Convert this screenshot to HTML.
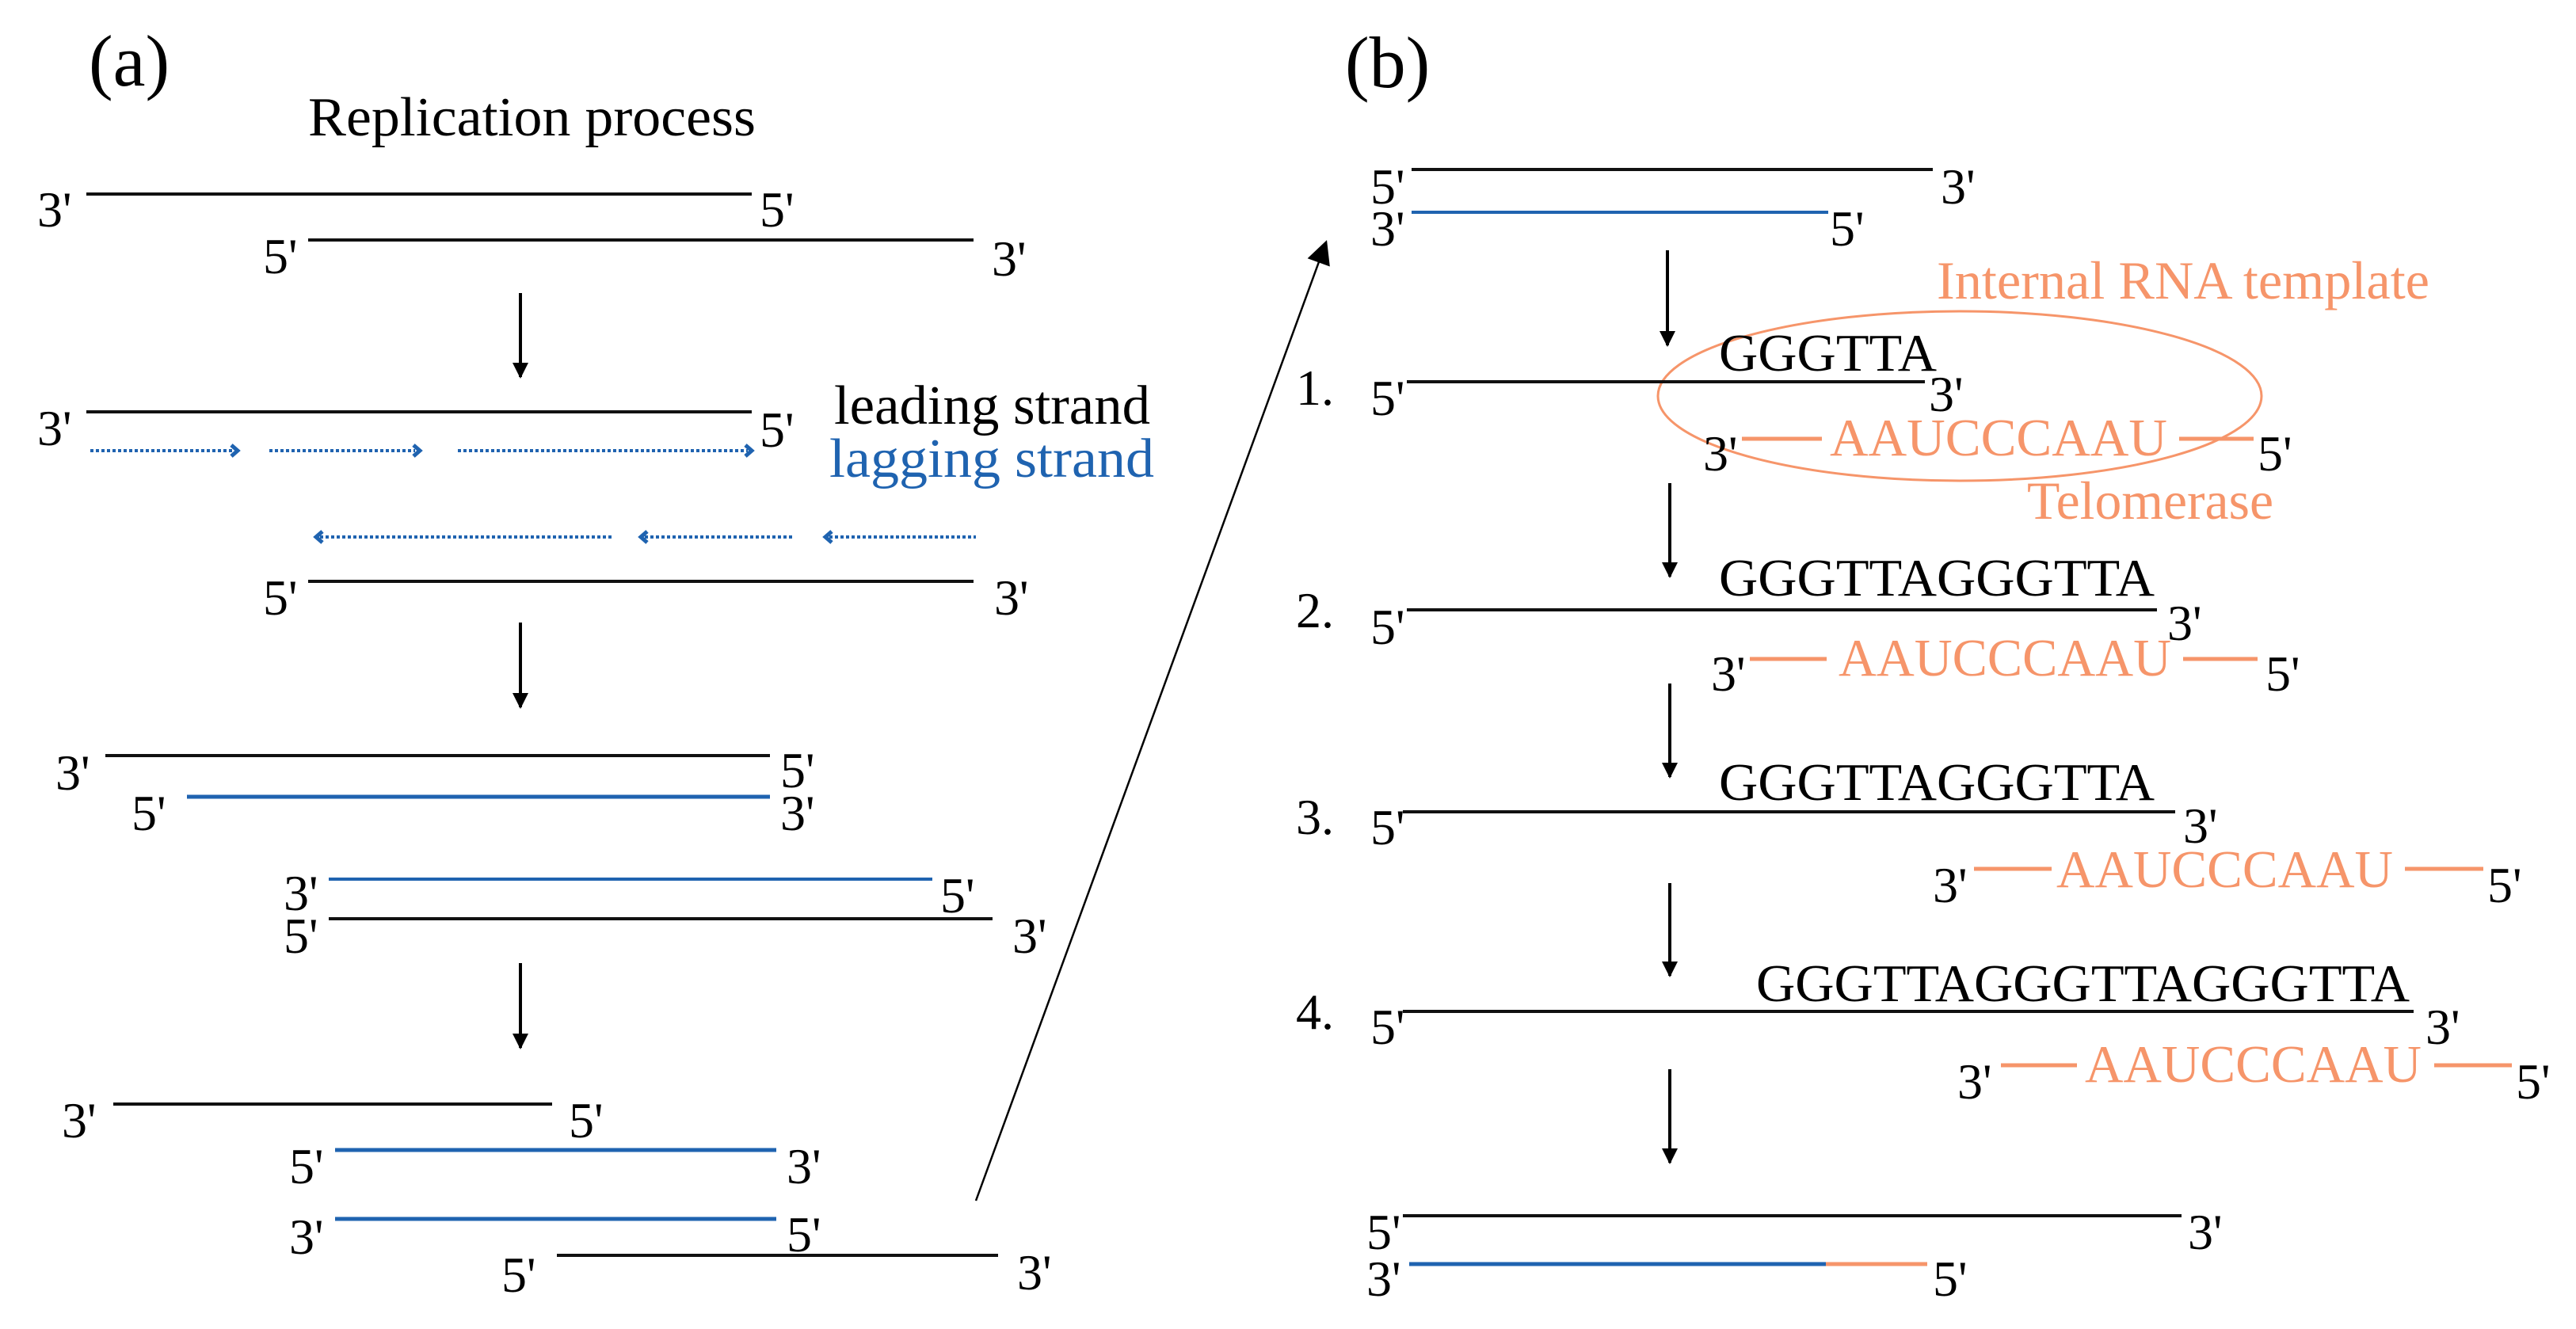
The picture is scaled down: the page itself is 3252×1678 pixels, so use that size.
<!DOCTYPE html>
<html><head><meta charset="utf-8"><style>
html,body{margin:0;padding:0;background:#fff;}
svg{display:block;}
text{font-family:"Liberation Serif",serif;}
</style></head><body>
<svg width="3252" height="1678" viewBox="0 0 3252 1678" xmlns="http://www.w3.org/2000/svg">
<defs>
<marker id="ah" viewBox="0 0 10 10" refX="9" refY="5" markerWidth="5" markerHeight="5" orient="auto" markerUnits="strokeWidth"><path d="M0,0 L10,5 L0,10 z" fill="#000"/></marker>
<marker id="ah2" viewBox="0 0 10 10" refX="9" refY="5" markerWidth="14" markerHeight="12" orient="auto" markerUnits="strokeWidth"><path d="M0,0 L10,5 L0,10 z" fill="#000"/></marker>
</defs>
<g font-size="64" fill="#000">
<!-- (a) -->
<text x="112" y="108" font-size="92">(a)</text>
<text x="389" y="171" font-size="70" textLength="565" lengthAdjust="spacingAndGlyphs">Replication process</text>

<line x1="109" y1="245" x2="949" y2="245" stroke="#111" stroke-width="4"/>
<text x="47" y="286">3'</text><text x="959" y="286">5'</text>
<line x1="389" y1="303" x2="1229" y2="303" stroke="#111" stroke-width="4"/>
<text x="332" y="345">5'</text><text x="1252" y="348">3'</text>

<line x1="657" y1="370" x2="657" y2="476" stroke="#000" stroke-width="4" marker-end="url(#ah)"/>

<line x1="109" y1="520" x2="949" y2="520" stroke="#111" stroke-width="4"/>
<text x="47" y="562">3'</text><text x="959" y="564">5'</text>
<text x="1053" y="535" font-size="70" textLength="399" lengthAdjust="spacingAndGlyphs">leading strand</text>
<text x="1047" y="602" font-size="70" fill="#1f63b0" textLength="410" lengthAdjust="spacingAndGlyphs">lagging strand</text>

<g stroke="#1f63b0" stroke-width="4" stroke-dasharray="4 3" fill="none">
<line x1="114" y1="569" x2="296" y2="569"/>
<line x1="340" y1="569" x2="524" y2="569"/>
<line x1="578" y1="569" x2="944" y2="569"/>
<line x1="404" y1="678" x2="773" y2="678"/>
<line x1="814" y1="678" x2="1001" y2="678"/>
<line x1="1047" y1="678" x2="1232" y2="678"/>
</g>
<g stroke="#1f63b0" stroke-width="5" fill="none">
<polyline points="292,562 300,569 292,576"/>
<polyline points="522,562 530,569 522,576"/>
<polyline points="941,562 949,569 941,576"/>
<polyline points="407,671 399,678 407,685"/>
<polyline points="817,671 809,678 817,685"/>
<polyline points="1050,671 1042,678 1050,685"/>
</g>

<line x1="389" y1="734" x2="1229" y2="734" stroke="#111" stroke-width="4"/>
<text x="332" y="776">5'</text><text x="1255" y="776">3'</text>

<line x1="657" y1="786" x2="657" y2="893" stroke="#000" stroke-width="4" marker-end="url(#ah)"/>

<line x1="133" y1="954" x2="972" y2="954" stroke="#111" stroke-width="4"/>
<text x="70" y="997">3'</text><text x="985" y="994">5'</text>
<line x1="236" y1="1006" x2="972" y2="1006" stroke="#1f63b0" stroke-width="5"/>
<text x="166" y="1048">5'</text><text x="985" y="1048">3'</text>

<line x1="415" y1="1110" x2="1177" y2="1110" stroke="#1f63b0" stroke-width="4"/>
<text x="358" y="1149">3'</text><text x="1187" y="1152">5'</text>
<line x1="415" y1="1160" x2="1253" y2="1160" stroke="#111" stroke-width="4"/>
<text x="358" y="1203">5'</text><text x="1278" y="1203">3'</text>

<line x1="657" y1="1216" x2="657" y2="1323" stroke="#000" stroke-width="4" marker-end="url(#ah)"/>

<line x1="143" y1="1394" x2="697" y2="1394" stroke="#111" stroke-width="4"/>
<text x="78" y="1436">3'</text><text x="718" y="1436">5'</text>
<line x1="423" y1="1452" x2="980" y2="1452" stroke="#1f63b0" stroke-width="5"/>
<text x="365" y="1494">5'</text><text x="993" y="1494">3'</text>
<line x1="423" y1="1539" x2="980" y2="1539" stroke="#1f63b0" stroke-width="5"/>
<text x="365" y="1583">3'</text><text x="993" y="1580">5'</text>
<line x1="703" y1="1585" x2="1260" y2="1585" stroke="#111" stroke-width="4"/>
<text x="633" y="1631">5'</text><text x="1284" y="1628">3'</text>

<!-- diagonal -->
<line x1="1232" y1="1516" x2="1674" y2="306" stroke="#000" stroke-width="2.5" marker-end="url(#ah2)"/>

<!-- (b) -->
<text x="1698" y="110" font-size="92">(b)</text>

<line x1="1782" y1="214" x2="2440" y2="214" stroke="#111" stroke-width="4"/>
<text x="1730" y="257">5'</text><text x="2450" y="257">3'</text>
<line x1="1782" y1="268" x2="2308" y2="268" stroke="#1f63b0" stroke-width="4"/>
<text x="1730" y="310">3'</text><text x="2310" y="310">5'</text>

<line x1="2105" y1="316" x2="2105" y2="436" stroke="#000" stroke-width="4" marker-end="url(#ah)"/>

<text x="2445" y="377" font-size="68" fill="#f6956a" textLength="622" lengthAdjust="spacingAndGlyphs">Internal RNA template</text>
<ellipse cx="2474" cy="500" rx="381" ry="107" fill="none" stroke="#f6956a" stroke-width="3"/>
<text x="2170" y="468" font-size="67" textLength="275" lengthAdjust="spacingAndGlyphs">GGGTTA</text>
<text x="1636" y="511">1.</text>
<line x1="1776" y1="482" x2="2430" y2="482" stroke="#111" stroke-width="4"/>
<text x="1730" y="524">5'</text><text x="2435" y="519">3'</text>
<text x="2150" y="594">3'</text>
<line x1="2199" y1="554" x2="2300" y2="554" stroke="#f6956a" stroke-width="5"/>
<text x="2310" y="575" font-size="67" fill="#f6956a" textLength="426" lengthAdjust="spacingAndGlyphs">AAUCCCAAU</text>
<line x1="2751" y1="554" x2="2845" y2="554" stroke="#f6956a" stroke-width="5"/>
<text x="2850" y="594">5'</text>
<text x="2559" y="655" font-size="68" fill="#f6956a" textLength="311" lengthAdjust="spacingAndGlyphs">Telomerase</text>

<line x1="2108" y1="610" x2="2108" y2="728" stroke="#000" stroke-width="4" marker-end="url(#ah)"/>

<text x="2170" y="752" font-size="67" textLength="550" lengthAdjust="spacingAndGlyphs">GGGTTAGGGTTA</text>
<text x="1636" y="792">2.</text>
<line x1="1776" y1="770" x2="2723" y2="770" stroke="#111" stroke-width="4"/>
<text x="1730" y="813">5'</text><text x="2736" y="808">3'</text>
<text x="2160" y="872">3'</text>
<line x1="2209" y1="832" x2="2306" y2="832" stroke="#f6956a" stroke-width="5"/>
<text x="2321" y="853" font-size="67" fill="#f6956a" textLength="420" lengthAdjust="spacingAndGlyphs">AAUCCCAAU</text>
<line x1="2756" y1="832" x2="2850" y2="832" stroke="#f6956a" stroke-width="5"/>
<text x="2860" y="872">5'</text>

<line x1="2108" y1="863" x2="2108" y2="981" stroke="#000" stroke-width="4" marker-end="url(#ah)"/>

<text x="2170" y="1010" font-size="67" textLength="550" lengthAdjust="spacingAndGlyphs">GGGTTAGGGTTA</text>
<text x="1636" y="1053">3.</text>
<line x1="1771" y1="1025" x2="2746" y2="1025" stroke="#111" stroke-width="4"/>
<text x="1730" y="1066">5'</text><text x="2756" y="1064">3'</text>
<text x="2440" y="1139">3'</text>
<line x1="2492" y1="1097" x2="2590" y2="1097" stroke="#f6956a" stroke-width="5"/>
<text x="2596" y="1120" font-size="67" fill="#f6956a" textLength="425" lengthAdjust="spacingAndGlyphs">AAUCCCAAU</text>
<line x1="3036" y1="1097" x2="3135" y2="1097" stroke="#f6956a" stroke-width="5"/>
<text x="3140" y="1139">5'</text>

<line x1="2108" y1="1115" x2="2108" y2="1232" stroke="#000" stroke-width="4" marker-end="url(#ah)"/>

<text x="2217" y="1264" font-size="67" textLength="825" lengthAdjust="spacingAndGlyphs">GGGTTAGGGTTAGGGTTA</text>
<text x="1636" y="1299">4.</text>
<line x1="1771" y1="1277" x2="3047" y2="1277" stroke="#111" stroke-width="4"/>
<text x="1730" y="1318">5'</text><text x="3062" y="1318">3'</text>
<text x="2471" y="1387">3'</text>
<line x1="2526" y1="1345" x2="2622" y2="1345" stroke="#f6956a" stroke-width="5"/>
<text x="2632" y="1366" font-size="67" fill="#f6956a" textLength="425" lengthAdjust="spacingAndGlyphs">AAUCCCAAU</text>
<line x1="3073" y1="1345" x2="3171" y2="1345" stroke="#f6956a" stroke-width="5"/>
<text x="3176" y="1387">5'</text>

<line x1="2108" y1="1350" x2="2108" y2="1468" stroke="#000" stroke-width="4" marker-end="url(#ah)"/>

<line x1="1771" y1="1535" x2="2754" y2="1535" stroke="#111" stroke-width="4"/>
<text x="1725" y="1577">5'</text><text x="2762" y="1577">3'</text>
<line x1="1779" y1="1596" x2="2305" y2="1596" stroke="#1f63b0" stroke-width="5"/>
<line x1="2305" y1="1596" x2="2433" y2="1596" stroke="#f6956a" stroke-width="5"/>
<text x="1725" y="1636">3'</text><text x="2440" y="1636">5'</text>
</g>
</svg>
</body></html>
